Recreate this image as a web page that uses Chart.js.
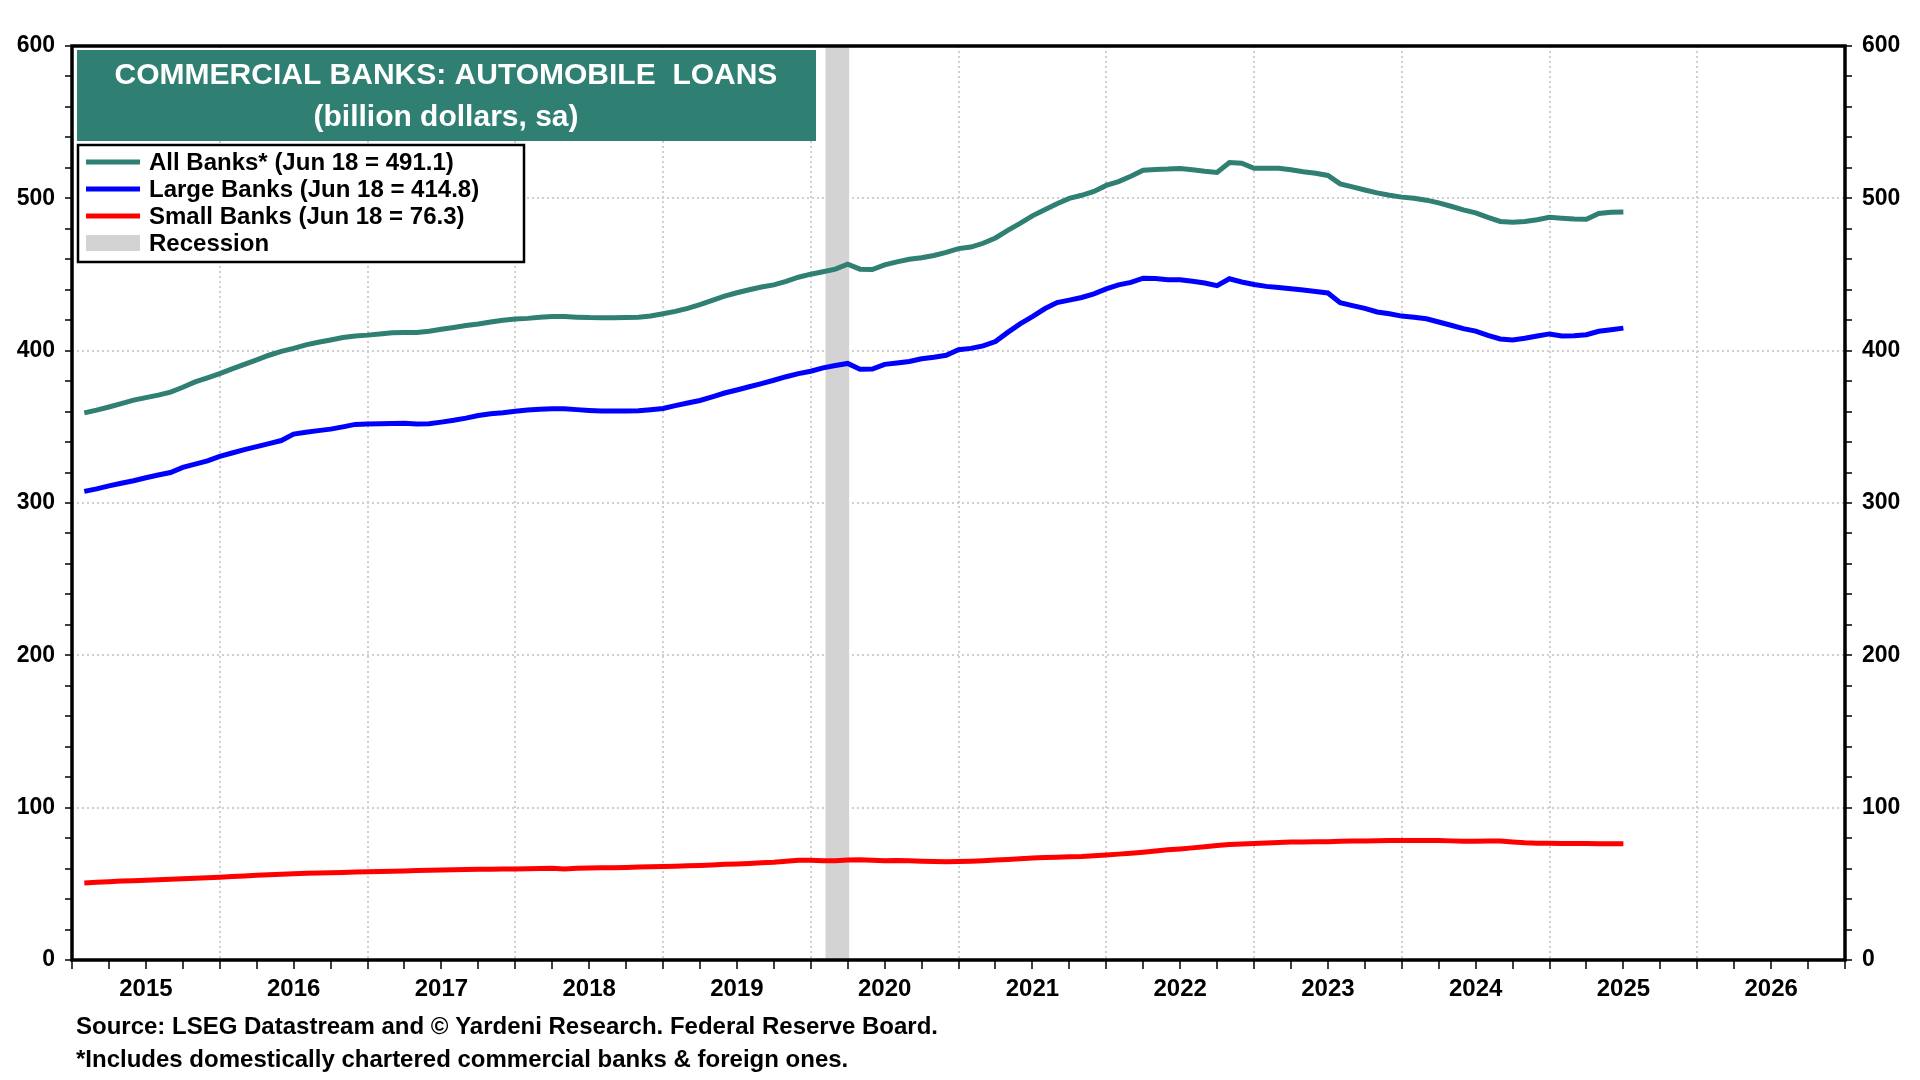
<!DOCTYPE html>
<html>
<head>
<meta charset="utf-8">
<title>Commercial Banks: Automobile Loans</title>
<script src="https://cdn.jsdelivr.net/npm/chart.js@4.4.1/dist/chart.umd.min.js"></script>
<style>
    html, body { margin: 0; padding: 0; background: #fff; }
</style>
</head>
<body>
<canvas id="autoChart" width="1920" height="1080"></canvas>
<script>
// month-end readings, Jan 2015 .. Jun 2025, billion dollars (sa)
const firstYear = 2015;

const allBanks = [
    359.2, 361, 363, 365.2, 367.5, 369.2, 370.8, 372.8, 376, 379.5, 382.2, 385,
    388, 391, 394, 397, 399.5, 401.5, 403.8, 405.5, 407, 408.6, 409.6, 410.2,
    411, 411.8, 412, 412, 412.8, 414, 415.2, 416.5, 417.5, 418.8, 420, 420.8,
    421.2, 421.9, 422.4, 422.4, 422, 421.7, 421.6, 421.6, 421.7, 421.9, 422.8, 424.2,
    425.8, 427.8, 430.2, 433, 435.8, 438, 440, 441.8, 443.2, 445.5, 448.2, 450.2,
    451.8, 453.5, 456.8, 453.5, 453.3, 456.3, 458.3, 460, 461, 462.5, 464.5, 467,
    468, 470.5, 474, 479, 483.5, 488.5, 492.5, 496.5, 500, 502, 504.5, 508.5,
    511, 514.5, 518.5, 519, 519.2, 519.6, 518.8, 517.8, 517, 523.5, 523, 519.7,
    519.7, 519.7, 518.7, 517.5, 516.5, 515, 509.5, 507.5, 505.5, 503.6, 502, 500.8,
    500, 498.8, 497, 494.8, 492.4, 490.5, 487.5, 484.8, 484.3, 484.8, 486, 487.5,
    487, 486.4, 486.3, 490, 490.8, 491.1
];

const largeBanks = [
    307.6, 309.3, 311.2, 313, 314.6, 316.6, 318.4, 320, 323.4, 325.5, 327.6, 330.6,
    332.8, 335, 337, 339, 341, 345.2, 346.5, 347.5, 348.5, 350, 351.6, 351.8,
    352, 352.2, 352.4, 351.8, 352, 353.1, 354.3, 355.7, 357.4, 358.6, 359.3, 360.2,
    361.1, 361.5, 361.8, 361.9, 361.3, 360.8, 360.4, 360.4, 360.4, 360.5, 361.2, 362,
    363.9, 365.6, 367.3, 369.7, 372.2, 374.2, 376.3, 378.4, 380.6, 382.9, 384.9, 386.5,
    388.7, 390.3, 391.6, 387.8, 387.9, 391, 391.9, 392.9, 394.7, 395.7, 397, 400.6,
    401.5, 403.1, 406, 412, 417.6, 422.4, 427.5, 431.6, 433.2, 434.9, 437.3, 440.5,
    443.2, 444.8, 447.6, 447.3, 446.6, 446.6, 445.6, 444.4, 442.7, 447.2, 445.1, 443.4,
    442.2, 441.5, 440.7, 439.8, 438.9, 437.9, 431.5, 429.6, 427.8, 425.4, 424.2, 422.7,
    421.9, 420.9, 418.8, 416.7, 414.5, 412.8, 410, 407.7, 407, 408.1, 409.6, 411,
    409.7, 409.8, 410.5, 412.7, 413.7, 414.8
];

const smallBanks = [
    50.6, 51, 51.4, 51.8, 52.1, 52.4, 52.7, 53, 53.3, 53.6, 54, 54.4,
    54.8, 55.2, 55.6, 56, 56.3, 56.6, 56.9, 57.1, 57.3, 57.5, 57.7, 57.9,
    58.1, 58.3, 58.5, 58.7, 58.9, 59.1, 59.3, 59.4, 59.5, 59.6, 59.7, 59.8,
    59.9, 60.1, 60.2, 59.8, 60.2, 60.4, 60.5, 60.6, 60.8, 61, 61.2, 61.4,
    61.6, 61.8, 62.1, 62.4, 62.8, 63.1, 63.4, 63.8, 64.2, 64.8, 65.5, 65.4,
    65.1, 65.2, 65.6, 65.8, 65.5, 65.2, 65.3, 65.2, 64.9, 64.7, 64.5, 64.7,
    64.9, 65.2, 65.6, 66, 66.5, 67, 67.3, 67.5, 67.7, 68, 68.5, 69,
    69.5, 70.1, 70.8, 71.6, 72.3, 72.9, 73.6, 74.4, 75.2, 75.8, 76.1, 76.5,
    76.8, 77.1, 77.4, 77.5, 77.6, 77.7, 77.9, 78.1, 78.2, 78.3, 78.4, 78.4,
    78.4, 78.4, 78.4, 78.2, 77.9, 77.9, 78.1, 78.1, 77.5, 77, 76.7, 76.6,
    76.5, 76.4, 76.4, 76.3, 76.3, 76.3
];

const recession = [2020.1, 2020.26];
const xRange = [2015, 2027];
const yRange = [0, 600];

const seriesLabels = [
    'All Banks* (Jun 18 = 491.1)',
    'Large Banks (Jun 18 = 414.8)',
    'Small Banks (Jun 18 = 76.3)'
];
const titleLines = ['COMMERCIAL BANKS: AUTOMOBILE  LOANS', '(billion dollars, sa)'];
const footnotes = [
    'Source: LSEG Datastream and \u00A9 Yardeni Research. Federal Reserve Board.',
    '*Includes domestically chartered commercial banks & foreign ones.'
];

const TEAL = '#2f7f72';
const FONT = '"Liberation Sans", Arial, sans-serif';
const GRID = '#cfcfcf';

function toPoints(values) {
    return values.map((v, i) => ({ x: firstYear + (i + 1) / 12, y: v }));
}

const isWhole = v => Math.abs(v - Math.round(v)) < 1e-6;

// recession band, frame, title box, legend box, footnotes
const decorations = {
    id: 'decorations',
    beforeDatasetsDraw(chart) {
        const { ctx, chartArea: a, scales: { x } } = chart;
        const x1 = x.getPixelForValue(recession[0]);
        const x2 = x.getPixelForValue(recession[1]);
        ctx.save();
        ctx.fillStyle = '#d3d3d3';
        ctx.fillRect(x1, a.top, x2 - x1, a.bottom - a.top);
        ctx.restore();
    },
    afterDraw(chart) {
        const { ctx, chartArea: a } = chart;
        ctx.save();

        // frame
        ctx.strokeStyle = '#000';
        ctx.lineWidth = 3.5;
        ctx.strokeRect(a.left, a.top, a.right - a.left, a.bottom - a.top);

        // title box
        ctx.fillStyle = TEAL;
        ctx.fillRect(77, 50, 739, 91);
        ctx.fillStyle = '#fff';
        ctx.textAlign = 'center';
        ctx.textBaseline = 'middle';
        ctx.font = 'bold 30px ' + FONT;
        ctx.fillText(titleLines[0], 446, 76);
        ctx.fillText(titleLines[1], 446, 118);

        // legend box
        ctx.fillStyle = '#fff';
        ctx.fillRect(78, 145, 446, 117);
        ctx.strokeStyle = '#000';
        ctx.lineWidth = 2.5;
        ctx.strokeRect(78, 145, 446, 117);
        ctx.font = 'bold 24px ' + FONT;
        ctx.textAlign = 'left';
        const rows = chart.data.datasets.map(d => ({ label: d.label, color: d.borderColor, type: 'line' }));
        rows.push({ label: 'Recession', color: '#d3d3d3', type: 'box' });
        rows.forEach((r, i) => {
            const y = 162 + i * 27;
            if (r.type === 'line') {
                ctx.strokeStyle = r.color;
                ctx.lineWidth = 5;
                ctx.beginPath();
                ctx.moveTo(86, y);
                ctx.lineTo(140, y);
                ctx.stroke();
            } else {
                ctx.fillStyle = r.color;
                ctx.fillRect(86, y - 8, 54, 16);
            }
            ctx.fillStyle = '#000';
            ctx.fillText(r.label, 149, y + 1);
        });

        // footnotes
        ctx.font = 'bold 24px ' + FONT;
        ctx.fillStyle = '#000';
        ctx.fillText(footnotes[0], 76, 1027);
        ctx.fillText(footnotes[1], 76, 1060);

        ctx.restore();
    }
};

document.addEventListener('DOMContentLoaded', function () {
    const ctx = document.getElementById('autoChart')?.getContext('2d');
    if (!ctx) return;

    Chart.defaults.font.family = FONT;
    Chart.defaults.font.weight = 'bold';
    Chart.defaults.color = '#000';

    const yAxis = (position, width) => ({
        type: 'linear',
        position: position,
        min: yRange[0],
        max: yRange[1],
        afterFit: scale => { scale.width = width; },
        border: { display: false, dash: [2, 3] },
        grid: {
            color: c => (c.tick && c.tick.value % 100 === 0) ? GRID : 'rgba(0,0,0,0)',
            lineWidth: 2,
            tickColor: '#000',
            tickLength: 7,
            tickWidth: 1.5,
            drawOnChartArea: position === 'left'
        },
        ticks: {
            stepSize: 20,
            autoSkip: false,
            padding: 10,
            font: { size: 23, weight: 'bold' },
            callback: v => (v % 100 === 0 ? String(v) : '')
        }
    });

    new Chart(ctx, {
        type: 'line',
        data: {
            datasets: [
                {
                    label: seriesLabels[0],
                    data: toPoints(allBanks),
                    borderColor: TEAL,
                    borderWidth: 5,
                    pointRadius: 0,
                    fill: false
                },
                {
                    label: seriesLabels[1],
                    data: toPoints(largeBanks),
                    borderColor: '#0000ff',
                    borderWidth: 5,
                    pointRadius: 0,
                    fill: false
                },
                {
                    label: seriesLabels[2],
                    data: toPoints(smallBanks),
                    borderColor: '#ff0000',
                    borderWidth: 5,
                    pointRadius: 0,
                    fill: false
                }
            ]
        },
        options: {
            responsive: false,
            animation: false,
            devicePixelRatio: 1,
            layout: { padding: { top: 46, left: 0, right: 0, bottom: 0 } },
            plugins: {
                legend: { display: false },
                tooltip: { enabled: false }
            },
            scales: {
                x: {
                    type: 'linear',
                    min: xRange[0],
                    max: xRange[1],
                    afterFit: scale => { scale.height = 120; },
                    afterBuildTicks: scale => {
                        const ticks = [];
                        for (let v = xRange[0]; v <= xRange[1] + 1e-9; v += 0.25) ticks.push({ value: v });
                        scale.ticks = ticks;
                    },
                    border: { display: false, dash: [2, 3] },
                    grid: {
                        color: c => (c.tick && isWhole(c.tick.value)) ? GRID : 'rgba(0,0,0,0)',
                        lineWidth: 2,
                        tickColor: '#000',
                        tickLength: 9,
                        tickWidth: 1.5
                    },
                    ticks: {
                        autoSkip: false,
                        maxRotation: 0,
                        padding: 6,
                        font: { size: 24, weight: 'bold' },
                        callback: v => (Math.abs(v % 1 - 0.5) < 1e-6 ? String(Math.floor(v)) : '')
                    }
                },
                y: yAxis('left', 72),
                y2: yAxis('right', 75)
            }
        },
        plugins: [decorations]
    });
});
</script>
</body>
</html>
